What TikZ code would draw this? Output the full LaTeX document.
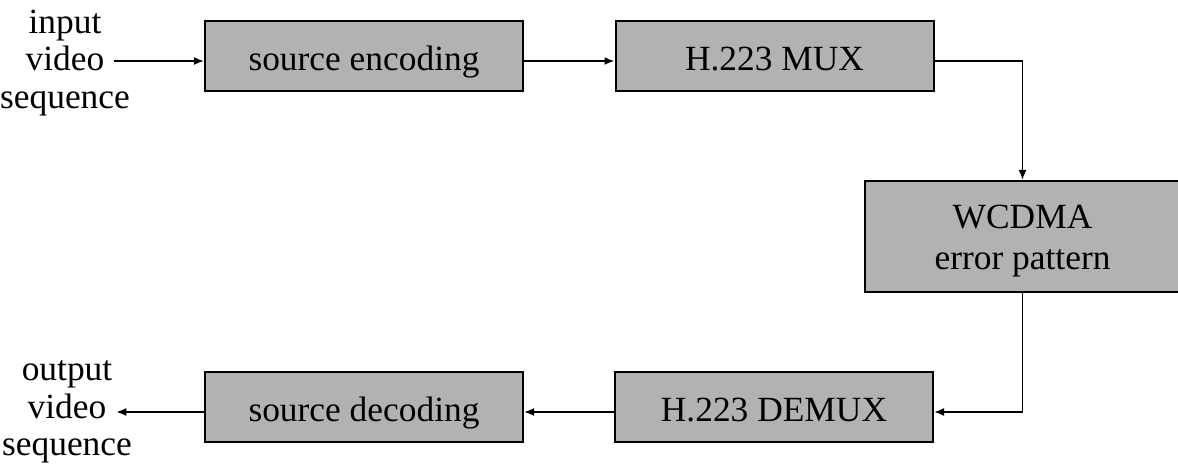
\documentclass[tikz,border=0pt]{standalone}
\usepackage{fontspec}
\setmainfont{Liberation Serif}
\usetikzlibrary{arrows.meta,positioning}

\begin{document}
\begin{tikzpicture}[x=0.5pt,y=0.5pt,>={Latex[length=5pt,width=4pt]},
  blk/.style={draw=black,line width=1pt,fill=black!30,minimum width=159pt,minimum height=35pt,inner sep=0pt,
    text height=15pt,text depth=0pt,font=\fontsize{17.7}{20.5}\selectfont,align=center},
  lbl/.style={align=center,inner sep=0pt,font=\fontsize{17.7}{18.75}\selectfont},
  conn/.style={->,line width=0.9pt}]
\useasboundingbox (0,0) rectangle (1178,465);
\node[blk] (enc) at (364,409) {source encoding};
\node[blk] (mux) at (774.5,409) {H.223 MUX};
\node[blk,minimum width=157.5pt,minimum height=55.5pt,text height=33.5pt] (err) at (1022.5,228.5) {WCDMA\\error pattern};
\node[blk] (dmx) at (774,58) {H.223 DEMUX};
\node[blk] (dec) at (364,58) {source decoding};
\node[lbl] (inlbl) at (65,402) {input\\video\\sequence};
\node[lbl] (outlbl) at (67,53) {output\\video\\sequence};
% forward path
\draw[conn] ([xshift=-8pt,yshift=1pt]inlbl.east) -- ([yshift=-2.5pt]enc.west);
\draw[conn] ([yshift=-2.5pt]enc.east) -- ([yshift=-2.5pt]mux.west);
\draw[conn] ([yshift=-2.5pt]mux.east) -| (err.north);
% return path
\draw[conn] (err.south) |- ([yshift=-2.5pt]dmx.east);
\draw[conn] ([yshift=-2.5pt]dmx.west) -- ([yshift=-2.5pt]dec.east);
\draw[conn] ([yshift=-2.5pt]dec.west) -- ([xshift=-8pt]outlbl.east);
\end{tikzpicture}
\end{document}
